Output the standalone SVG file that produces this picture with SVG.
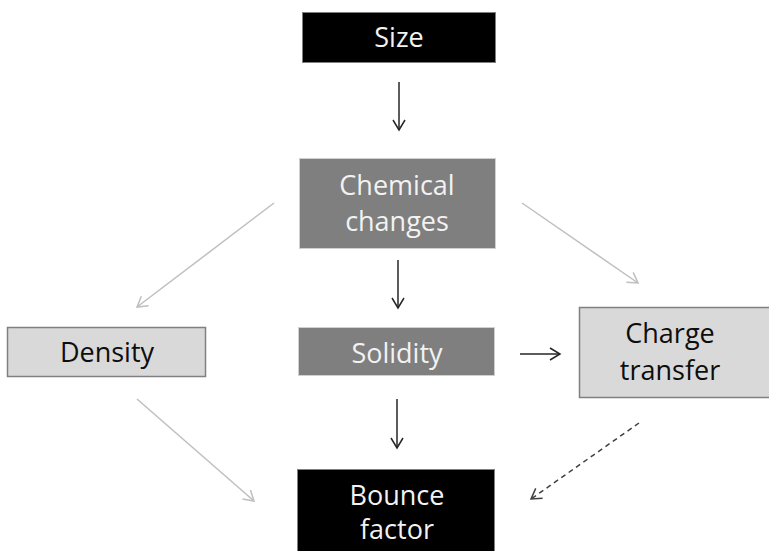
<svg xmlns="http://www.w3.org/2000/svg" width="769" height="551" viewBox="0 0 769 551">
<style>
  .t { font-family: "Open Sans", "Liberation Sans", sans-serif; font-size: 27px; text-anchor: middle; }
  .light { fill: #f2f2f2; }
  .dark { fill: #0d0d0d; }
  .blk { fill: #000; stroke: #7f7f7f; stroke-width: 1; }
  .gry { fill: #7f7f7f; stroke: #d0d0d0; stroke-width: 1; }
  .lgt { fill: #d9d9d9; stroke: #808080; stroke-width: 1.5; }
  .c-dark { stroke: #262626; stroke-width: 1.5; fill: none; }
  .c-light { stroke: #bfbfbf; stroke-width: 1.5; fill: none; }
  .c-dash { stroke: #404040; stroke-width: 1.5; fill: none; stroke-dasharray: 5 4; }
</style>
<defs>
  <marker id="ad" markerUnits="userSpaceOnUse" markerWidth="14" markerHeight="14" viewBox="-12 -7 14 14" refX="0" refY="0" orient="auto">
    <path d="M-10,-6 L0,0 L-10,6" fill="none" stroke="#262626" stroke-width="1.5"/>
  </marker>
  <marker id="al" markerUnits="userSpaceOnUse" markerWidth="14" markerHeight="14" viewBox="-12 -7 14 14" refX="0" refY="0" orient="auto">
    <path d="M-10,-6 L0,0 L-10,6" fill="none" stroke="#bfbfbf" stroke-width="1.5"/>
  </marker>
  <marker id="ag" markerUnits="userSpaceOnUse" markerWidth="14" markerHeight="14" viewBox="-12 -7 14 14" refX="0" refY="0" orient="auto">
    <path d="M-10,-6 L0,0 L-10,6" fill="none" stroke="#404040" stroke-width="1.5"/>
  </marker>
</defs>
<rect width="769" height="551" fill="#fff"/>
<g id="connectors">
  <line class="c-dark" x1="399" y1="82" x2="399" y2="130" marker-end="url(#ad)"/>
  <line class="c-dark" x1="398" y1="260" x2="398" y2="308" marker-end="url(#ad)"/>
  <line class="c-dark" x1="397" y1="399" x2="397" y2="448" marker-end="url(#ad)"/>
  <line class="c-dark" x1="520" y1="354" x2="560" y2="354" marker-end="url(#ad)"/>
  <line class="c-light" x1="274" y1="203" x2="137" y2="307" marker-end="url(#al)"/>
  <line class="c-light" x1="522" y1="203" x2="638" y2="283" marker-end="url(#al)"/>
  <line class="c-light" x1="137" y1="399" x2="254" y2="501" marker-end="url(#al)"/>
  <line class="c-dash" x1="639" y1="423" x2="531" y2="499" marker-end="url(#ag)"/>
</g>
<g id="size">
  <rect class="blk" x="302.5" y="12.5" width="193" height="50"/>
  <text class="t light" x="399" y="47">Size</text>
</g>
<g id="chemical">
  <rect class="gry" x="299.5" y="158.5" width="196" height="90"/>
  <text class="t light" x="397" y="195">Chemical</text>
  <text class="t light" x="397" y="231">changes</text>
</g>
<g id="density">
  <rect class="lgt" x="7.5" y="327.5" width="198" height="49"/>
  <text class="t dark" x="107" y="362">Density</text>
</g>
<g id="solidity">
  <rect class="gry" x="298.5" y="327.5" width="196" height="48"/>
  <text class="t light" x="397" y="363">Solidity</text>
</g>
<g id="charge">
  <rect class="lgt" x="579.5" y="307.5" width="200" height="90"/>
  <text class="t dark" x="670" y="343">Charge</text>
  <text class="t dark" x="670" y="380">transfer</text>
</g>
<g id="bounce">
  <rect class="blk" x="297.5" y="469.5" width="197" height="90"/>
  <text class="t light" x="397" y="505">Bounce</text>
  <text class="t light" x="397" y="539">factor</text>
</g>
</svg>
